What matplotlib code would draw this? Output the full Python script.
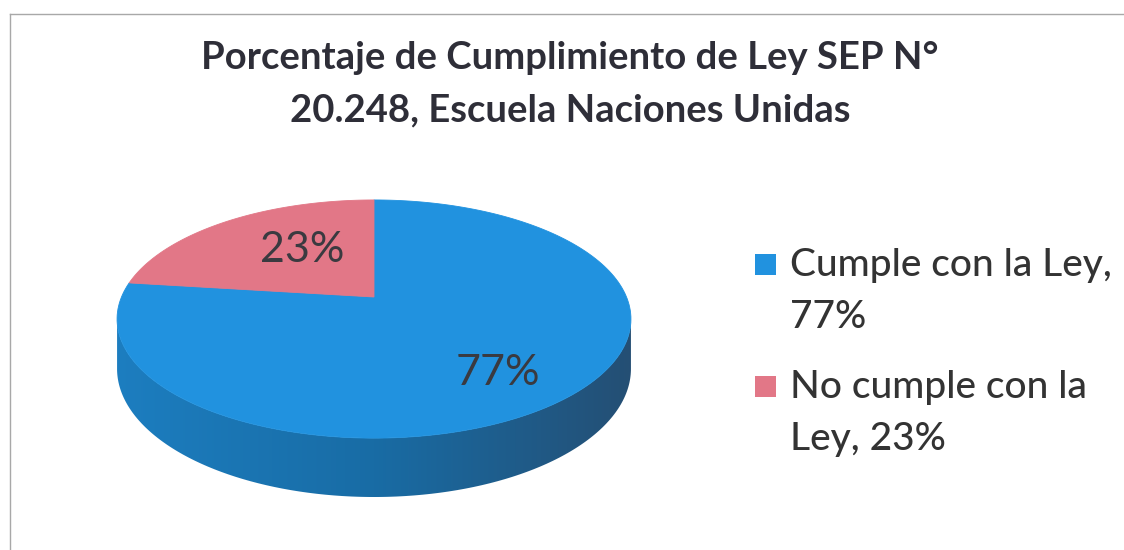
import textwrap
import numpy as np
import matplotlib
matplotlib.use("Agg")
import matplotlib.pyplot as plt
from matplotlib.patches import Polygon, Rectangle
from matplotlib.path import Path
from matplotlib.colors import LinearSegmentedColormap, to_rgb

# ---------------- data ----------------
categories = ["Cumple con la Ley", "No cumple con la Ley"]
values = [77, 23]
colors = ["#2192DF", "#E27787"]
title_lines = ["Porcentaje de Cumplimiento de Ley SEP N°",
               "20.248, Escuela Naciones Unidas"]

# ---------------- layout / style ----------------
W, H = 1124, 550
FONT = "Lato"
TXT = "#333333"
cx, cy, rx, ry, depth, persp = 374, 297, 252.5, 115, 48, 0.185
label_pos = [(498, 373), (302, 250)]

fig = plt.figure(figsize=(W / 100, H / 100), dpi=100)
ax = fig.add_axes([0, 0, 1, 1])
ax.set_xlim(0, W)
ax.set_ylim(H, 0)
ax.axis("off")

# chart border (only top and left visible in the crop)
ax.plot([10, W], [14, 14], color="#a8a8a8", lw=1.0)
ax.plot([10, 10], [14, H], color="#a8a8a8", lw=1.0)


def project(uv, drop=0.0):
    u, v = uv[:, 0], uv[:, 1]
    s = 1.0 / (1.0 + persp * v)
    return np.column_stack([cx + rx * u * s, cy + (depth * drop - ry * v) * s])


def densify(poly, step=0.01):
    out = []
    for a, b in zip(poly[:-1], poly[1:]):
        n = max(int(np.hypot(*(b - a)) / step), 1)
        t = np.linspace(0, 1, n, endpoint=False)[:, None]
        out.append(a + (b - a) * t)
    out.append(poly[-1:])
    return np.vstack(out)


def arc_points(a1, a2):
    arc = Path.arc(a1, a2, n=96)
    return densify(arc.to_polygons(closed_only=False)[0])


# slice angles: start at 12 o'clock, clockwise
fracs = np.array(values, dtype=float) / np.sum(values)
angles = []
start = 90.0
for f in fracs:
    end = start - f * 360.0
    angles.append((end, start))
    start = end

# visible front side range
edge = np.degrees(np.arcsin(persp))
front = (180.0 + edge, 360.0 - edge)

# ---- sides ----
for (t1, t2), col in zip(angles, colors):
    for k in (-360, 0, 360):
        a1, a2 = max(t1 + k, front[0]), min(t2 + k, front[1])
        if a2 - a1 <= 0.01:
            continue
        pts = arc_points(a1, a2)
        top = project(pts, 0.0)
        bot = project(pts, 1.0)[::-1]
        side = np.vstack([top, bot])
        patch = Polygon(side, closed=True, facecolor="none", edgecolor="none")
        ax.add_patch(patch)
        base = np.array(to_rgb(col))
        cmap = LinearSegmentedColormap.from_list(
            "side", [base * 0.86, base * 0.74,
                     tuple(np.clip(base * np.array([1.1, 0.54, 0.52]), 0, 1))])
        grad = np.linspace(0, 1, 256)[None, :]
        x0, x1 = side[:, 0].min(), side[:, 0].max()
        y0, y1 = side[:, 1].min(), side[:, 1].max()
        im = ax.imshow(grad, cmap=cmap, extent=[x0, x1, y1, y0], aspect="auto",
                       interpolation="bilinear", zorder=1)
        im.set_clip_path(patch)

ax.set_xlim(0, W)
ax.set_ylim(H, 0)

# ---- top faces ----
for (t1, t2), col in zip(angles, colors):
    pts = arc_points(t1, t2)
    poly = np.vstack([[[0.0, 0.0]], pts, [[0.0, 0.0]]])
    ax.add_patch(Polygon(project(densify(poly)), closed=True, facecolor=col,
                         edgecolor=col, lw=0.6, zorder=2))

# ---- data labels ----
for (x, y), v in zip(label_pos, values):
    ax.text(x, y, f"{v}%", fontsize=31, family=FONT, color="#3a3a40",
            ha="center", va="center", zorder=3)

# ---- title ----
title_base = [69, 121]
for y, line in zip(title_base, title_lines):
    ax.text(570, y, line, fontsize=27.5, family=FONT, weight="bold",
            color="#2e2e38", ha="center", va="baseline")

# ---- legend ----
leg_base = [276, 398]
for yb, cat, v, col in zip(leg_base, categories, values, colors):
    ax.add_patch(Rectangle((755, yb - 22), 21, 21, facecolor=col, edgecolor="none"))
    lines = textwrap.fill(f"{cat}, {v}%", width=18).split("\n")
    for i, line in enumerate(lines):
        ax.text(790, yb + i * 52, line, fontsize=28, family=FONT, weight="medium",
                color=TXT, ha="left", va="baseline")

fig.savefig("out.png", dpi=100)
